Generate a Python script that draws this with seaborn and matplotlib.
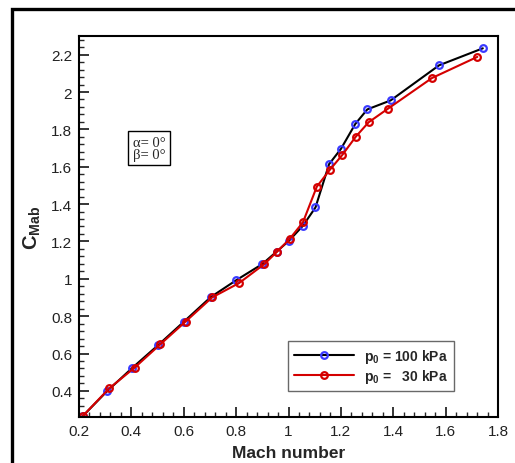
import matplotlib
matplotlib.use("Agg")
import matplotlib.pyplot as plt
import seaborn as sns
import pandas as pd
from matplotlib.patches import Rectangle
from matplotlib.ticker import MultipleLocator

# datos
mach_100 = [0.215, 0.307, 0.401, 0.503, 0.601, 0.703, 0.801, 0.900, 0.955, 1.002,
            1.055, 1.103, 1.155, 1.200, 1.255, 1.301, 1.390, 1.575, 1.742]
cmab_100 = [0.266, 0.398, 0.520, 0.646, 0.771, 0.902, 0.993, 1.079, 1.146, 1.204,
            1.284, 1.382, 1.614, 1.695, 1.829, 1.907, 1.955, 2.143, 2.234]

mach_30 = [0.215, 0.315, 0.413, 0.511, 0.607, 0.708, 0.811, 0.908, 0.957, 1.004,
           1.055, 1.108, 1.158, 1.206, 1.257, 1.306, 1.380, 1.548, 1.721]
cmab_30 = [0.266, 0.413, 0.525, 0.650, 0.771, 0.900, 0.977, 1.079, 1.146, 1.213,
           1.302, 1.493, 1.584, 1.664, 1.761, 1.838, 1.911, 2.075, 2.188]

labels = [r"$\mathbf{p_0}$ = 100 kPa", r"$\mathbf{p_0}$ =   30 kPa"]

sns.set_style("white")
plt.rcParams["font.family"] = ["Liberation Sans", "DejaVu Sans"]
plt.rcParams["mathtext.fontset"] = "custom"
plt.rcParams["mathtext.rm"] = "Liberation Sans"
plt.rcParams["mathtext.bf"] = "Liberation Sans:bold"
plt.rcParams["mathtext.it"] = "Liberation Sans:italic"

df100 = pd.DataFrame({"Mach": mach_100, "CMab": cmab_100})
df30 = pd.DataFrame({"Mach": mach_30, "CMab": cmab_30})

fig = plt.figure(figsize=(5.15, 4.64), dpi=100)
ax = fig.add_axes([0.1534, 0.0991, 0.8136, 0.8212])

# marco de la figura
fig.patches.append(Rectangle((0.0233, -0.2), 1.5, 0.978 + 0.2, transform=fig.transFigure,
                             fill=False, edgecolor="black", linewidth=2.4, zorder=0))

sns.lineplot(data=df100, x="Mach", y="CMab", ax=ax, sort=False, color="black", lw=1.5,
             marker="o", markersize=4.8, markerfacecolor="none", markeredgecolor="#3a3aff",
             markeredgewidth=1.6, label=labels[0])
sns.lineplot(data=df30, x="Mach", y="CMab", ax=ax, sort=False, color="#d40000", lw=1.5,
             marker="o", markersize=4.8, markerfacecolor="none", markeredgecolor="#d40000",
             markeredgewidth=1.6, label=labels[1])

ax.set_xlim(0.2, 1.8)
ax.set_ylim(0.26, 2.30)
ax.xaxis.set_minor_locator(MultipleLocator(0.04))
ax.yaxis.set_minor_locator(MultipleLocator(0.04))
ax.set_xticks([0.2, 0.4, 0.6, 0.8, 1.0, 1.2, 1.4, 1.6, 1.8])
ax.set_xticklabels(["0.2", "0.4", "0.6", "0.8", "1", "1.2", "1.4", "1.6", "1.8"])
ax.set_yticks([0.4, 0.6, 0.8, 1.0, 1.2, 1.4, 1.6, 1.8, 2.0, 2.2])
ax.set_yticklabels(["0.4", "0.6", "0.8", "1", "1.2", "1.4", "1.6", "1.8", "2", "2.2"])

ax.tick_params(which="major", direction="in", length=7, width=1.3, labelsize=11,
               bottom=True, left=True, top=False, right=False, pad=5, labelcolor="#222222")
ax.tick_params(which="minor", direction="in", length=3.5, width=1.0,
               bottom=True, left=True, top=False, right=False)
for s in ax.spines.values():
    s.set_linewidth(1.5)
    s.set_color("black")

ax.set_xlabel("Mach number", fontsize=12.5, fontweight="bold", labelpad=5)
ax.set_ylabel(r"$\mathbf{C_{Mab}}$", fontsize=14.5, labelpad=6)

ax.text(0.128, 0.738, "α= 0°\nβ= 0°", transform=ax.transAxes, ha="left", va="top",
        fontsize=10.5, family=["Liberation Serif", "DejaVu Serif"], linespacing=0.9,
        bbox=dict(boxstyle="square,pad=0.3", facecolor="white", edgecolor="black", linewidth=1))

leg = ax.legend(loc="lower right", bbox_to_anchor=(0.895, 0.068), fancybox=False,
                frameon=True, edgecolor="#444444", handlelength=4.3, borderaxespad=0,
                prop={"weight": "bold", "size": 10}, borderpad=0.45, labelspacing=0.15,
                handletextpad=0.7)
leg.get_frame().set_linewidth(1.0)

plt.savefig("out.png", dpi=100)
